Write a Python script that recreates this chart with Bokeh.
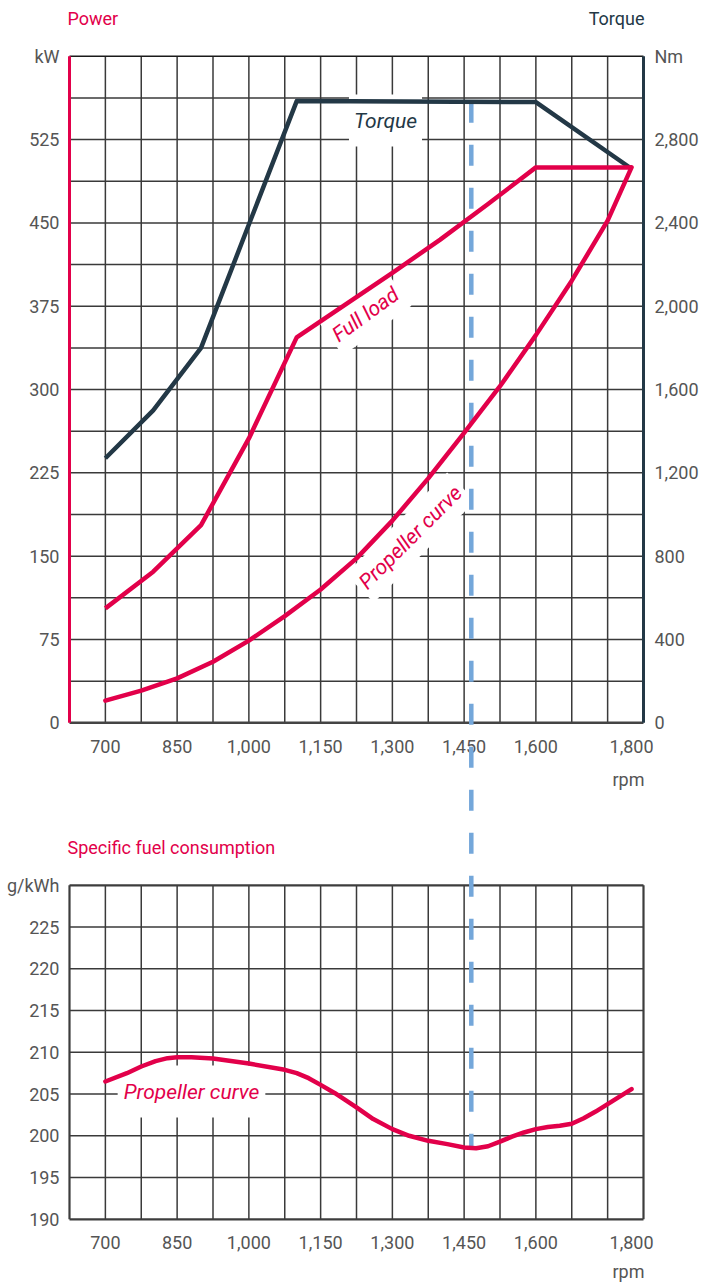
import math
import numpy as np
from bokeh.plotting import figure
from bokeh.models import Range1d, FixedTicker, NumeralTickFormatter, LinearAxis, Label, Title
from bokeh.core.properties import value
from bokeh.embed import file_html
from bokeh.resources import INLINE

# ---------------- data ----------------
rpm_ticks = [700, 850, 1000, 1150, 1300, 1450, 1600, 1800]
kw_ticks = [0, 75, 150, 225, 300, 375, 450, 525]
nm_ticks = [0, 400, 800, 1200, 1600, 2000, 2400, 2800]
sfc_ticks = [190, 195, 200, 205, 210, 215, 220, 225]

torque_rpm = [700, 800, 900, 1100, 1600, 1800]
torque_nm = [1270, 1500, 1800, 2985, 2980, 2660]

full_rpm = [700, 800, 900, 1000, 1100, 1200, 1300, 1400, 1500, 1600, 1800]
full_kw = [103, 136, 178, 256, 347, 376, 405, 435, 467, 500, 500]

prop_rpm = [700, 775, 850, 925, 1000, 1075, 1150, 1225, 1300, 1375, 1450, 1525, 1600, 1675, 1750, 1800]
prop_kw = [20, 29, 40, 55, 74, 96, 120, 148, 182, 220, 261, 303, 349, 398, 452, 500]

sfc_rpm = [700, 745, 775, 805, 830, 850, 880, 925, 1000, 1075, 1100, 1125, 1150, 1180, 1225, 1260, 1300,
           1335, 1375, 1415, 1450, 1475, 1500, 1525, 1550, 1575, 1600, 1625, 1650, 1675, 1700, 1725,
           1750, 1775, 1800]
sfc_val = [206.5, 207.5, 208.3, 208.95, 209.3, 209.4, 209.42, 209.25, 208.65, 207.9, 207.5, 206.9, 206.1, 205.1,
           203.4, 202.0, 200.8, 200.0, 199.4, 199.0, 198.6, 198.5, 198.75, 199.3, 199.9, 200.4, 200.8, 201.05,
           201.2, 201.45, 202.1, 202.9, 203.8, 204.7, 205.6]

rated_rpm = 1465

# ---------------- scales / geometry ----------------
RPM_MIN, RPM_MAX, RPM_STEP = 625, 1825, 75
KW_MAX, KW_STEP = 600, 37.5
NM_PER_KW = 16 / 3
SFC_MIN, SFC_MAX, SFC_STEP = 190, 230, 5

W, H = 707, 1288
ML, MT, MR, MB = 65, 2, 54, 65
PAD_L = 4
FW = W - ML - MR
FH = H - MT - MB
W_PX = 574
RPM_PER_PX = (RPM_MAX - RPM_MIN) / W_PX
PX_L = ML + PAD_L                 # x of rpm 625
Y_KW0 = 722.3                     # y of 0 kW
KW_PER_PX = KW_MAX / 666.5
Y_SFC0 = 1218.8                   # y of 190 g/kWh
SFC_PER_PX = (SFC_MAX - SFC_MIN) / 334


def dx(px):
    return RPM_MIN + (px - PX_L) * RPM_PER_PX


def dy(py):
    return (Y_KW0 - py) * KW_PER_PX


def sfc_to_kw(v):
    return dy(Y_SFC0 - (v - SFC_MIN) / SFC_PER_PX)


RED = "#e2004a"
NAVY = "#233846"
GRID = "#3a3a3a"
TXT = "#555555"
BLUE = "#74a7da"
FONT = "Roboto"

x0r, x1r = dx(ML), dx(ML + FW)
y0r, y1r = dy(MT + FH), dy(MT)

p = figure(frame_width=FW, frame_height=FH,
           min_border_left=ML, min_border_top=MT, min_border_right=MR, min_border_bottom=MB,
           x_range=Range1d(x0r, x1r), y_range=Range1d(y0r, y1r),
           output_backend="svg", toolbar_location=None,
           background_fill_color="white", border_fill_color="white")
p.outline_line_color = None
p.xgrid.visible = False
p.ygrid.visible = False
p.extra_y_ranges = {
    "nm": Range1d(y0r * NM_PER_KW, y1r * NM_PER_KW),
    "sfc": Range1d(SFC_MIN - (MT + FH - Y_SFC0) * SFC_PER_PX, SFC_MIN + (Y_SFC0 - MT) * SFC_PER_PX),
}

# ---------------- axes ----------------
left = p.left[0]
left_ticks = list(kw_ticks) + [KW_MAX] + [sfc_to_kw(v) for v in sfc_ticks] + [sfc_to_kw(SFC_MAX)]
left.ticker = FixedTicker(ticks=left_ticks)
overrides = {t: str(t) for t in kw_ticks}
overrides[KW_MAX] = "kW"
overrides.update({sfc_to_kw(v): str(v) for v in sfc_ticks})
overrides[sfc_to_kw(SFC_MAX)] = "g/kWh"
left.major_label_overrides = overrides

right = LinearAxis(y_range_name="nm", ticker=FixedTicker(ticks=nm_ticks + [KW_MAX * NM_PER_KW]),
                   formatter=NumeralTickFormatter(format="0,0"))
right.major_label_overrides = {KW_MAX * NM_PER_KW: "Nm"}
p.add_layout(right, "right")

bottom = p.below[0]
bottom.ticker = FixedTicker(ticks=rpm_ticks)
bottom.formatter = NumeralTickFormatter(format="0,0")

for ax in (left, right, bottom):
    ax.axis_line_color = None
    ax.major_tick_line_color = None
    ax.minor_tick_line_color = None
    ax.major_tick_out = 0
    ax.major_tick_in = 0
    ax.major_label_text_font = FONT
    ax.major_label_text_font_size = "18px"
    ax.major_label_text_color = TXT
left.major_label_standoff = 6
right.major_label_standoff = 1
bottom.major_label_standoff = 12

rpm_title = Title(text="rpm", align="right", offset=9, standoff=15,
                  text_font=FONT, text_font_size="18px", text_font_style="normal", text_color=TXT)
p.add_layout(rpm_title, "below")

# ---------------- grid (drawn per panel) ----------------
vx = list(np.arange(RPM_MIN + RPM_STEP, RPM_MAX, RPM_STEP))
p.segment(x0=vx, y0=[0] * len(vx), x1=vx, y1=[KW_MAX] * len(vx),
          line_color=GRID, line_width=1.5, level="image")
hy = list(np.arange(KW_STEP, KW_MAX, KW_STEP))
p.segment(x0=[RPM_MIN] * len(hy), y0=hy, x1=[RPM_MAX] * len(hy), y1=hy,
          line_color=GRID, line_width=1.5, level="image")
p.segment(x0=vx, y0=[SFC_MIN] * len(vx), x1=vx, y1=[SFC_MAX] * len(vx),
          line_color=GRID, line_width=1.5, level="image", y_range_name="sfc")
sy = list(np.arange(SFC_MIN + SFC_STEP, SFC_MAX, SFC_STEP))
p.segment(x0=[RPM_MIN] * len(sy), y0=sy, x1=[RPM_MAX] * len(sy), y1=sy,
          line_color=GRID, line_width=1.5, level="image", y_range_name="sfc")

# panel borders
p.segment(x0=[RPM_MIN], y0=[KW_MAX], x1=[RPM_MAX], y1=[KW_MAX], line_color="#1a1a1a", line_width=1.6, level="image")
p.segment(x0=[RPM_MIN], y0=[0], x1=[RPM_MAX], y1=[0], line_color="#444444", line_width=2.4, level="image")
p.segment(x0=[RPM_MIN], y0=[0], x1=[RPM_MIN], y1=[KW_MAX], line_color=RED, line_width=3, level="image")
p.segment(x0=[RPM_MAX], y0=[0], x1=[RPM_MAX], y1=[KW_MAX], line_color=NAVY, line_width=3, level="image")
p.segment(x0=[RPM_MIN, RPM_MIN, RPM_MIN, RPM_MAX], y0=[SFC_MAX, SFC_MIN, SFC_MIN, SFC_MIN],
          x1=[RPM_MAX, RPM_MAX, RPM_MIN, RPM_MAX], y1=[SFC_MAX, SFC_MIN, SFC_MAX, SFC_MAX],
          line_color="#3d3d3d", line_width=2.2, level="image", y_range_name="sfc")

# ---------------- in-plot labels with white boxes ----------------
def box_label(text, px, py, color, angle=0.0, pad=(5, 12), size="20px"):
    lab = Label(x=dx(px), y=dy(py), text=text, text_align="center", text_baseline="middle",
                text_font=FONT, text_font_size=size, text_font_style="italic",
                text_color=color, angle=math.radians(angle),
                background_fill_color="white", padding=pad, level="underlay")
    p.add_layout(lab)

box_label("Torque", 385, 120, NAVY, 0, (5, 14), "21px")
box_label("Full load", 365, 314, RED, 36, (4, 8), "21px")
box_label("Propeller curve", 410, 537, RED, 45, (4, 8), "21px")
box_label("Propeller curve", 191, 1091, RED, 0, (6, 14), "21px")

# top-panel rpm tick labels
p.text(x=rpm_ticks, y=[dy(746)] * len(rpm_ticks), text=[f"{v:,}" for v in rpm_ticks],
       text_align="center", text_baseline="middle", text_font=value(FONT),
       text_font_size="18px", text_color=TXT)

# ---------------- rated speed line ----------------
top_kw = float(np.interp(rated_rpm, torque_rpm, torque_nm)) / NM_PER_KW
bot_kw = sfc_to_kw(float(np.interp(rated_rpm, sfc_rpm, sfc_val)))
p.line(x=[rated_rpm, rated_rpm], y=[top_kw, bot_kw], line_color=BLUE, line_width=4.5,
       line_dash="21 22", line_cap="butt")

# ---------------- curves ----------------
p.line(x=torque_rpm, y=torque_nm, y_range_name="nm", line_color=NAVY, line_width=4.5, line_join="round")
p.line(x=full_rpm, y=full_kw, line_color=RED, line_width=4.5, line_join="round")
p.line(x=prop_rpm, y=prop_kw, line_color=RED, line_width=4.5, line_join="round", line_cap="round")
p.line(x=sfc_rpm, y=sfc_val, y_range_name="sfc", line_color=RED, line_width=4.5,
       line_join="round", line_cap="round")

# ---------------- titles ----------------
def plain_label(text, px, py, color, align, size="18px"):
    p.add_layout(Label(x=dx(px), y=dy(py), text=text, text_align=align, text_baseline="middle",
                       text_font=FONT, text_font_size=size, text_color=color))

plain_label("Power", 67, 18, RED, "left")
plain_label("Torque", 644, 18, NAVY, "right")
plain_label("rpm", 644, 779, TXT, "right")
plain_label("Specific fuel consumption", 67, 847, RED, "left")

open("out.html", "w").write(file_html(p, INLINE))
